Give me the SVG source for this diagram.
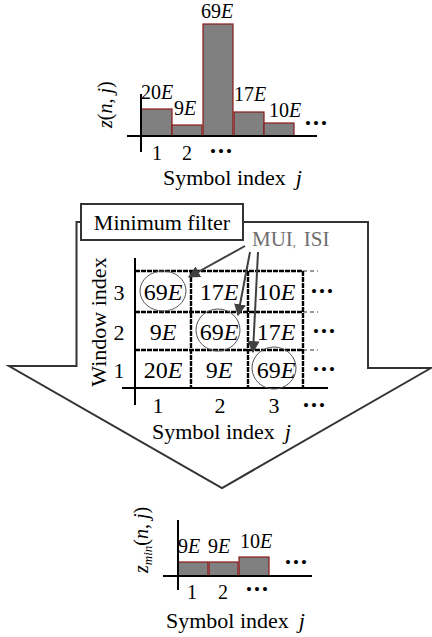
<svg xmlns="http://www.w3.org/2000/svg" width="432" height="637" viewBox="0 0 432 637">
<defs>
<style>
text{font-family:"Liberation Serif","Times New Roman",serif;fill:#000}
.it{font-style:italic}
.bar{fill:#808080;stroke:#8b1a1a;stroke-width:1.2}
.ax{stroke:#000;stroke-width:2;fill:none}
.grid{stroke:#000;stroke-width:2.4;stroke-dasharray:5 1;fill:none}
.ext{stroke:#777;stroke-width:1.5;stroke-dasharray:4 3;fill:none}
.ring{fill:none;stroke:#555;stroke-width:1}
.cell{font-size:24px;text-anchor:middle}
.dots{font-size:17px;letter-spacing:2px}
.conn{stroke:#404040;stroke-width:2;fill:none;marker-end:url(#ah)}
</style>
<marker id="ah" viewBox="0 0 10 10" refX="9" refY="5" markerWidth="6" markerHeight="6" orient="auto" markerUnits="strokeWidth">
<path d="M0,0 L10,5 L0,10 z" fill="#404040"/>
</marker>
</defs>
<rect width="432" height="637" fill="#fff"/>

<g id="big-arrow">
<path d="M81,222 H76.5 V366 H9 L222,488 L431,368 H368 V222 H243" fill="none" stroke="#333" stroke-width="2" stroke-linejoin="miter"/>
</g>

<g id="min-filter-box">
<rect x="81" y="204" width="162" height="36" fill="#fff" stroke="#333" stroke-width="2"/>
<text x="162" y="230" font-size="22" text-anchor="middle">Minimum filter</text>
</g>

<g id="top-chart">
<rect class="bar" x="141" y="109" width="31" height="27"/>
<rect class="bar" x="172" y="125" width="30" height="11"/>
<rect class="bar" x="203" y="24" width="30" height="112"/>
<rect class="bar" x="234" y="112" width="30" height="24"/>
<rect class="bar" x="264" y="123" width="30" height="13"/>
<path class="ax" d="M141,94 V152 M127,136 H317"/>
<text x="141" y="99" font-size="20">20<tspan class="it">E</tspan></text>
<text x="174" y="115" font-size="20">9<tspan class="it">E</tspan></text>
<text x="201" y="18" font-size="20">69<tspan class="it">E</tspan></text>
<text x="234" y="101" font-size="20">17<tspan class="it">E</tspan></text>
<text x="269" y="117" font-size="20">10<tspan class="it">E</tspan></text>
<text class="dots" x="305" y="129">•••</text>
<text x="157" y="160" font-size="20" text-anchor="middle">1</text>
<text x="187" y="160" font-size="20" text-anchor="middle">2</text>
<text class="dots" x="210" y="157">•••</text>
<text x="163" y="185" font-size="22">Symbol index<tspan class="it" dx="10">j</tspan></text>
<text transform="translate(112,128) rotate(-90)" font-size="20"><tspan class="it">z</tspan>(<tspan class="it">n</tspan>, <tspan class="it">j</tspan>)</text>
</g>

<g id="mui-isi">
<text x="252" y="246" font-size="21" style="fill:#6e6e6e">MUI<tspan font-size="12">,</tspan><tspan dx="8">ISI</tspan></text>
</g>

<g id="grid-chart">
<path class="ext" d="M303,271 H318 M303,312 H318 M303,350 H318"/>
<path class="grid" d="M135,271 H303 M135,312 H303 M135,350 H303 M191,271 V388 M248,271 V388 M303,271 V388"/>
<path class="ax" d="M135,258 V405 M122,388 H328"/>
<ellipse class="ring" cx="163" cy="291" rx="23" ry="20"/>
<ellipse class="ring" cx="218" cy="330" rx="22" ry="21"/>
<ellipse class="ring" cx="274" cy="368" rx="22" ry="21"/>
<text class="cell" x="163" y="300">69<tspan class="it">E</tspan></text>
<text class="cell" x="219" y="300">17<tspan class="it">E</tspan></text>
<text class="cell" x="276" y="300">10<tspan class="it">E</tspan></text>
<text class="cell" x="163" y="340">9<tspan class="it">E</tspan></text>
<text class="cell" x="219" y="340">69<tspan class="it">E</tspan></text>
<text class="cell" x="276" y="340">17<tspan class="it">E</tspan></text>
<text class="cell" x="163" y="378">20<tspan class="it">E</tspan></text>
<text class="cell" x="219" y="378">9<tspan class="it">E</tspan></text>
<text class="cell" x="276" y="378">69<tspan class="it">E</tspan></text>
<text class="dots" x="311" y="297">•••</text>
<text class="dots" x="313" y="337">•••</text>
<text class="dots" x="313" y="375">•••</text>
<text x="119" y="300" font-size="22" text-anchor="middle">3</text>
<text x="119" y="340" font-size="22" text-anchor="middle">2</text>
<text x="119" y="378" font-size="22" text-anchor="middle">1</text>
<text x="158" y="413" font-size="22" text-anchor="middle">1</text>
<text x="220" y="413" font-size="22" text-anchor="middle">2</text>
<text x="274" y="413" font-size="22" text-anchor="middle">3</text>
<text class="dots" x="303" y="411">•••</text>
<text x="152" y="439" font-size="22">Symbol index<tspan class="it" dx="10">j</tspan></text>
<text transform="translate(106,322) rotate(-90)" font-size="22" text-anchor="middle">Window index</text>
</g>

<g id="connectors">
<path class="conn" d="M245,246 L189,277"/>
<path class="conn" d="M250,252 L238,315"/>
<path class="conn" d="M258,252 L253,352"/>
</g>

<g id="bottom-chart">
<rect class="bar" x="178" y="562" width="30" height="14"/>
<rect class="bar" x="209" y="562" width="29" height="14"/>
<rect class="bar" x="239" y="557" width="30" height="19"/>
<path class="ax" d="M178,520 V590 M163,576 H312"/>
<text x="178" y="553" font-size="20">9<tspan class="it">E</tspan></text>
<text x="208" y="553" font-size="20">9<tspan class="it">E</tspan></text>
<text x="240" y="548" font-size="20">10<tspan class="it">E</tspan></text>
<text class="dots" x="285" y="568">•••</text>
<text x="192" y="599" font-size="20" text-anchor="middle">1</text>
<text x="223" y="599" font-size="20" text-anchor="middle">2</text>
<text class="dots" x="246" y="595">•••</text>
<text x="166" y="628" font-size="22">Symbol index<tspan class="it" dx="10">j</tspan></text>
<text transform="translate(148,573) rotate(-90)" font-size="20"><tspan class="it">z</tspan><tspan class="it" font-size="13" dy="4">min</tspan><tspan dy="-4">(</tspan><tspan class="it">n</tspan>, <tspan class="it">j</tspan>)</text>
</g>
</svg>
